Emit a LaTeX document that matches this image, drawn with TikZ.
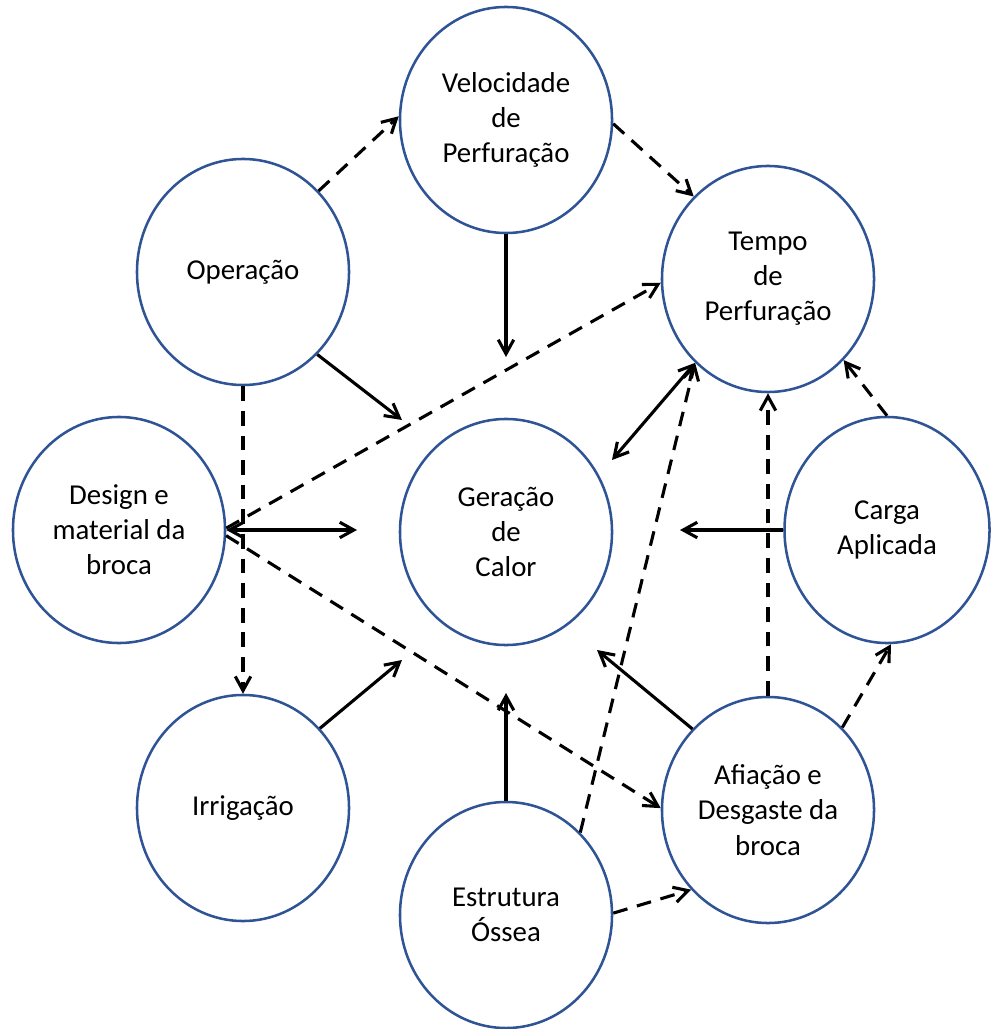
\documentclass[tikz,border=0pt]{standalone}
\usepackage{fontspec}
\setmainfont{Carlito}
\usetikzlibrary{shapes.geometric,arrows.meta}
\definecolor{circblue}{RGB}{47,84,150}

\begin{document}
\begin{tikzpicture}[x=0.025cm,y=-0.025cm,
    >={Straight Barb[length=10pt,width=11pt]},
    fator/.style={ellipse,draw=circblue,line width=1.8pt,minimum width=5.3cm,minimum height=5.65cm,
      inner sep=0pt,align=center,font=\fontsize{20.5}{25}\selectfont},
    seta/.style={line width=2.2pt,->},
    tracej/.style={seta,dash pattern=on 10.5pt off 7pt}]
  \useasboundingbox (0,0) rectangle (990,1029);

  \node[fator] (Vel) at (506,120) {Velocidade\\de\\Perfuração};
  \node[fator] (Tempo) at (768,279) {Tempo\\de\\Perfuração};
  \node[fator] (Op) at (243,272) {Operação};
  \node[fator] (Des) at (119,530) {Design e\\material da\\broca};
  \node[fator] (Ger) at (506,532) {Geração\\de\\Calor};
  \node[fator,minimum width=5.125cm] (Carga) at (887,530) {Carga\\Aplicada};
  \node[fator] (Irr) at (243,808) {Irrigação};
  \node[fator] (Est) at (506,915) {Estrutura\\Óssea};
  \node[fator] (Afi) at (768,810) {Afiação e\\Desgaste da\\broca};

  \coordinate (velG) at (506,357);
  \coordinate (opG) at (402,420);
  \coordinate (desG) at (357,530);
  \coordinate (irrG) at (402,660);
  \coordinate (estG) at (506,693);
  \coordinate (afiG) at (597,650);
  \coordinate (cargaG) at (680,530);
  \coordinate (tempoG) at (612,460);

  \draw[tracej] (Op.47) -- (Vel.178);
  \draw[tracej] (Vel.-2) -- (Tempo.132);
  \draw[seta] (Vel.south) -- (velG);
  \draw[seta] (Op.-48) -- (opG);
  \draw[tracej] (Des.1) -- (Tempo.182);
  \draw[seta,<->] (Des.east) -- (desG);
  \draw[tracej] (Des.-3) -- (Afi.179);
  \draw[tracej] (Op.south) -- (Irr.north);
  \draw[seta] (Irr.46) -- (irrG);
  \draw[seta] (Est.north) -- (estG);
  \draw[tracej] (Est.48) -- (Tempo.229);
  \draw[tracej] (Est.1) -- (Afi.226);
  \draw[seta] (Afi.133) -- (afiG);
  \draw[tracej] (Afi.north) -- (Tempo.south);
  \draw[tracej] (Afi.48) -- (Carga.-88);
  \draw[tracej] (Carga.north) -- (Tempo.313);
  \draw[seta] (Carga.west) -- (cargaG);
  \draw[seta,<->] (Tempo.229) -- (tempoG);
\end{tikzpicture}
\end{document}
